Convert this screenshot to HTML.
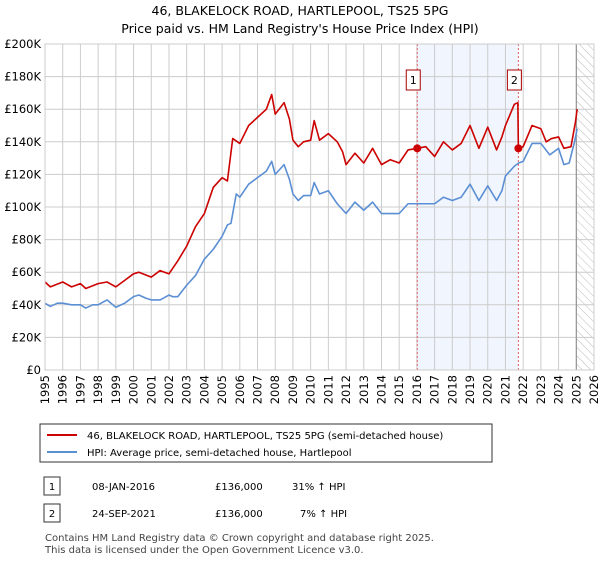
<!DOCTYPE html>
<html><head><meta charset="utf-8"><style>
body{margin:0;background:#fff;font-family:"Liberation Sans",sans-serif;color:#222}
svg text{font-family:"DejaVu Sans","Liberation Sans",sans-serif}
</style></head><body>
<svg id="c" width="600" height="560" xmlns="http://www.w3.org/2000/svg">
<text x="300" y="15" font-size="12.5" text-anchor="middle">46, BLAKELOCK ROAD, HARTLEPOOL, TS25 5PG</text>
<text x="300" y="33" font-size="12.5" text-anchor="middle">Price paid vs. HM Land Registry's House Price Index (HPI)</text>
<defs><pattern id="hatch" width="6" height="6" patternUnits="userSpaceOnUse" patternTransform="rotate(-45)"><line x1="0" y1="0" x2="0" y2="6" stroke="#bbb" stroke-width="1"/></pattern></defs>
<g id="plot"></g>
<rect x="40" y="424" width="452" height="38" fill="#fff" stroke="#333"/>
<line x1="47" y1="435" x2="77" y2="435" stroke="#cc0000" stroke-width="2"/>
<text x="87" y="439" font-size="10">46, BLAKELOCK ROAD, HARTLEPOOL, TS25 5PG (semi-detached house)</text>
<line x1="47" y1="452" x2="77" y2="452" stroke="#5b8fd4" stroke-width="2"/>
<text x="87" y="456" font-size="10">HPI: Average price, semi-detached house, Hartlepool</text>
<g font-size="10">
<rect x="44" y="477" width="16" height="18" fill="#fff" stroke="#333"/><text x="52" y="490" text-anchor="middle">1</text>
<text x="92" y="490">08-JAN-2016</text><text x="215" y="490">£136,000</text><text x="292" y="490">31% ↑ HPI</text></g>
<g font-size="10">
<rect x="44" y="504" width="16" height="18" fill="#fff" stroke="#333"/><text x="52" y="517" text-anchor="middle">2</text>
<text x="92" y="517">24-SEP-2021</text><text x="215" y="517">£136,000</text><text x="300" y="517">7% ↑ HPI</text></g>
<text x="45" y="541" font-size="10" fill="#444">Contains HM Land Registry data © Crown copyright and database right 2025.</text>
<text x="45" y="553" font-size="10" fill="#444">This data is licensed under the Open Government Licence v3.0.</text>
</svg>
<script>
const hpiYears=[1995,1995.3,1995.7,1996,1996.5,1997,1997.3,1997.7,1998,1998.5,1999,1999.5,2000,2000.3,2000.7,2001,2001.5,2002,2002.2,2002.5,2003,2003.5,2004,2004.5,2005,2005.3,2005.5,2005.8,2006,2006.5,2007,2007.5,2007.8,2008,2008.5,2008.8,2009,2009.3,2009.6,2010,2010.2,2010.5,2011,2011.5,2012,2012.5,2013,2013.5,2014,2014.5,2015,2015.5,2016,2016.5,2017,2017.5,2018,2018.5,2019,2019.5,2020,2020.5,2020.8,2021,2021.5,2021.75,2022,2022.5,2023,2023.5,2024,2024.3,2024.6,2024.9,2025.05];
const hpiValues=[41,39,41,41,40,40,38,40,40,43,38.5,41,45,46,44,43,43,46,45,45,52,58,68,74,82,89,90,108,106,114,118,122,128,120,126,117,108,104,107,107,115,108,110,102,96,103,98,103,96,96,96,102,102,102,102,106,104,106,114,104,113,104,110,119,125,127,128,139,139,132,136,126,127,140,148];
const priceYears=[1995,1995.3,1996,1996.5,1997,1997.3,1998,1998.5,1999,1999.5,2000,2000.3,2001,2001.5,2002,2002.5,2003,2003.5,2004,2004.5,2005,2005.3,2005.6,2006,2006.5,2007,2007.5,2007.8,2008,2008.5,2008.8,2009,2009.3,2009.6,2010,2010.2,2010.5,2011,2011.5,2011.8,2012,2012.5,2013,2013.5,2014,2014.5,2015,2015.5,2016.02,2016.5,2017,2017.5,2018,2018.5,2019,2019.5,2020,2020.5,2020.8,2021,2021.5,2021.7,2021.73,2022,2022.5,2023,2023.3,2023.6,2024,2024.3,2024.7,2024.95,2025.05];
const priceValues=[54,51,54,51,53,50,53,54,51,55,59,60,57,61,59,67,76,88,96,112,118,116,142,139,150,155,160,169,157,164,154,141,137,140,141,153,141,145,140,134,126,133,127,136,126,129,127,135,136,137,131,140,135,139,150,136,149,135,143,150,163,164,136,137,150,148,140,142,143,136,137,152,160];
const sales=[{label:"1",year:2016.02,value:136},{label:"2",year:2021.73,value:136}];
const yTicks=[0,20,40,60,80,100,120,140,160,180,200];
const xTicks=[];for(let y=1995;y<=2026;y++)xTicks.push(y);
const X0=45,X1=594,Y0=370,Y1=44;
const xs=y=>X0+(y-1995)/31*(X1-X0);
const ys=v=>Y0-v/200*(Y0-Y1);
const NS="http://www.w3.org/2000/svg",g=document.getElementById('plot');
function mk(t,a){const e=document.createElementNS(NS,t);for(const k in a)e.setAttribute(k,a[k]);g.appendChild(e);return e;}
let e=mk('rect',{x:xs(sales[0].year),y:Y1,width:xs(sales[1].year)-xs(sales[0].year),height:Y0-Y1,fill:'#eef3fd',opacity:0.8});


e=mk('rect',{x:xs(2025),y:Y1,width:X1-xs(2025),height:Y0-Y1,fill:'url(#hatch)'});


yTicks.forEach(v=>{mk('line',{x1:X0,x2:X1,y1:ys(v),y2:ys(v),stroke:'#ccc'});
const t=mk('text',{x:X0-4,y:ys(v)+4,'font-size':11.5,'text-anchor':'end'});t.textContent='£'+(v?v+'K':'0');

});
xTicks.forEach(y=>{mk('line',{x1:xs(y),x2:xs(y),y1:Y1,y2:Y0,stroke:'#ccc'});
const t=mk('text',{x:0,y:0,'font-size':11.5,'text-anchor':'end',transform:`translate(${xs(y)+4},${Y0+5}) rotate(-90)`});t.textContent=y;

});
mk('line',{x1:xs(2025),x2:xs(2025),y1:Y1,y2:Y0,stroke:'#888'});
sales.forEach(s=>{e=mk('line',{x1:xs(s.year),x2:xs(s.year),y1:Y1,y2:Y0,stroke:'#e06060','stroke-dasharray':'2,2'});

});
function line(xa,va,c,name){const p=mk('polyline',{points:xa.map((y,i)=>xs(y)+','+ys(va[i])).join(' '),fill:'none',stroke:c,'stroke-width':1.6,'stroke-linejoin':'round'});

}
line(hpiYears,hpiValues,'#5b8fd4','hpi-line');
line(priceYears,priceValues,'#cc0000','price-line');
sales.forEach(s=>{e=mk('circle',{cx:xs(s.year),cy:ys(s.value),r:4,fill:'#cc0000'});


const bx=xs(s.year)-4;
e=mk('rect',{x:bx-7,y:70,width:14,height:20,fill:'#fff',stroke:'#aa0000'});


const t=mk('text',{x:bx,y:84,'font-size':11,'text-anchor':'middle'});t.textContent=s.label;

});
mk('rect',{x:X0,y:Y1,width:X1-X0,height:Y0-Y1,fill:'none',stroke:'#ccc'});
</script>
</body></html>
